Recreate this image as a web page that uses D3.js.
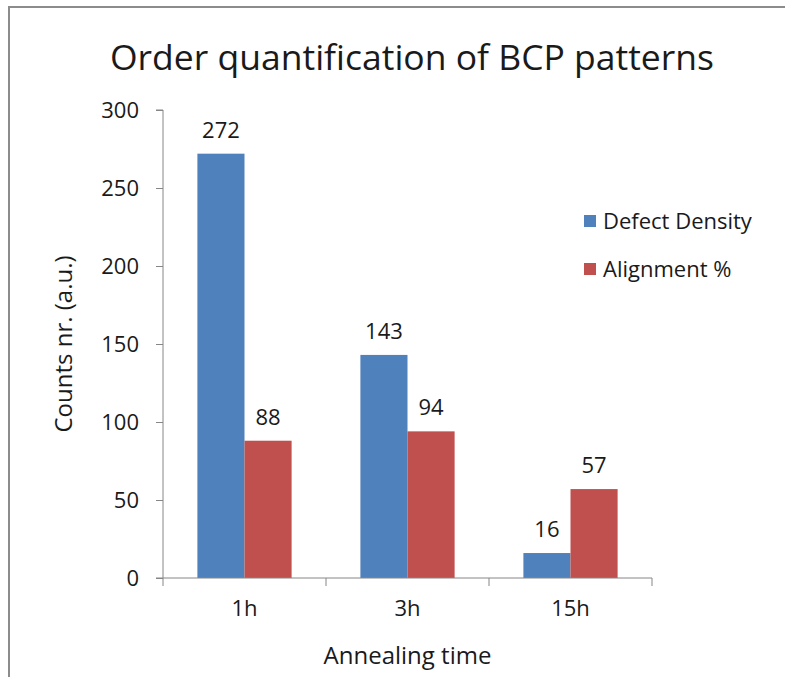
<!DOCTYPE html>
<html>
<head>
<meta charset="utf-8">
<script src="https://cdn.jsdelivr.net/npm/d3@7"></script>
<style>
  body { margin: 0; background: white; }
  text { font-family: "Open Sans", sans-serif; fill: #1a1a1a; }
</style>
</head>
<body>
<div id="chart"></div>
<script>
// chart data
const categories = ["1h", "3h", "15h"];
const seriesNames = ["Defect Density", "Alignment %"];
const defectDensity = [272, 143, 16];
const alignment = [88, 94, 57];
const yTicks = [0, 50, 100, 150, 200, 250, 300];

const colors = ["#4f81bd", "#c0504d"];

const width = 785;
const height = 677;
const plotLeft = 163, plotRight = 652, plotTop = 110, plotBottom = 578;

const svg = d3.select("#chart")
    .append("svg").attr("width", width).attr("height", height);

// outer frame
svg.append("path")
    .attr("d", `M9,${height} L9,7 L${width},7`)
    .attr("fill", "none")
    .attr("stroke", "#8c8c8c")
    .attr("stroke-width", 2);

// title
svg.append("text")
    .attr("x", 412)
    .attr("y", 70)
    .attr("text-anchor", "middle")
    .style("font-size", "35.5px")
    .text("Order quantification of BCP patterns");

const x = d3.scaleBand()
    .domain(categories)
    .range([plotLeft, plotRight]);

const xInner = d3.scaleBand()
    .domain(seriesNames)
    .range([0, x.bandwidth()])
    .paddingOuter(0.73);

const y = d3.scaleLinear()
    .domain([0, 300])
    .range([plotBottom, plotTop]);

const series = [defectDensity, alignment];

// bars
seriesNames.forEach((name, si) => {
    const g = svg.append("g");
    g.selectAll("rect")
        .data(categories)
        .join("rect")
        .attr("x", c => x(c) + xInner(name))
        .attr("y", (c, i) => y(series[si][i]))
        .attr("width", xInner.bandwidth())
        .attr("height", (c, i) => plotBottom - y(series[si][i]))
        .attr("fill", colors[si]);

    g.selectAll("text")
        .data(categories)
        .join("text")
        .attr("x", c => x(c) + xInner(name) + xInner.bandwidth() / 2)
        .attr("y", (c, i) => y(series[si][i]) - 16)
        .attr("text-anchor", "middle")
        .style("font-size", "22px")
        .text((c, i) => series[si][i]);
});

// y axis
const yAxis = svg.append("g")
    .attr("transform", `translate(${plotLeft},0)`)
    .call(d3.axisLeft(y).tickValues(yTicks).tickSize(7).tickPadding(17));
yAxis.selectAll("text").style("font-size", "22px").attr("fill", "#1a1a1a")
    .style("font-family", "'Open Sans', sans-serif");
yAxis.selectAll("line, path").attr("stroke", "#868686");
yAxis.select(".domain").attr("d", `M-7,${plotTop}H0V${plotBottom}H-7`);

// x axis
const xAxis = svg.append("g")
    .attr("transform", `translate(0,${plotBottom})`)
    .call(d3.axisBottom(x).tickSize(0).tickPadding(22));
xAxis.selectAll("text").style("font-size", "22px").attr("fill", "#1a1a1a")
    .style("font-family", "'Open Sans', sans-serif");
xAxis.select(".domain").attr("stroke", "#868686")
    .attr("d", `M${plotLeft},0H${plotRight}`);
// category boundary ticks
const boundaries = categories.map(c => x(c)).concat([plotRight]);
xAxis.selectAll(".bound")
    .data(boundaries)
    .join("line")
    .attr("class", "bound")
    .attr("x1", d => d).attr("x2", d => d)
    .attr("y1", 0).attr("y2", 8)
    .attr("stroke", "#868686");

// axis titles
svg.append("text")
    .attr("transform", `translate(72,${(plotTop + plotBottom) / 2}) rotate(-90)`)
    .attr("text-anchor", "middle")
    .style("font-size", "24px")
    .text("Counts nr. (a.u.)");

svg.append("text")
    .attr("x", (plotLeft + plotRight) / 2)
    .attr("y", 664)
    .attr("text-anchor", "middle")
    .style("font-size", "24px")
    .text("Annealing time");

// legend
const legend = svg.append("g");
seriesNames.forEach((name, i) => {
    legend.append("rect")
        .attr("x", 584)
        .attr("y", 215 + i * 48)
        .attr("width", 12)
        .attr("height", 12)
        .attr("fill", colors[i]);
    legend.append("text")
        .attr("x", 603)
        .attr("y", 229 + i * 48)
        .style("font-size", "22px")
        .text(name);
});
</script>
</body>
</html>
